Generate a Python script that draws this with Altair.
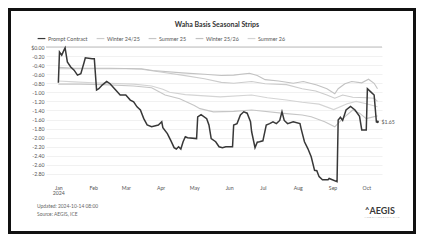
import altair as alt
import pandas as pd

series_names = ["Prompt Contract", "Winter 24/25", "Summer 25", "Winter 25/26", "Summer 26"]
series_colors = ["#383838", "#cccccc", "#c6c6c6", "#c2c2c2", "#d4d4d4"]

prompt_dates = ["2024-01-01","2024-01-02","2024-01-04","2024-01-06","2024-01-07","2024-01-09","2024-01-12",
    "2024-01-15","2024-01-18","2024-01-21","2024-01-24","2024-01-25","2024-01-31","2024-02-02","2024-02-04",
    "2024-02-06","2024-02-09","2024-02-13","2024-02-16","2024-02-21","2024-02-25","2024-03-01","2024-03-05",
    "2024-03-08","2024-03-11","2024-03-14","2024-03-17","2024-03-20","2024-03-24","2024-03-30","2024-04-02",
    "2024-04-03","2024-04-07","2024-04-10","2024-04-13","2024-04-15","2024-04-17","2024-04-19","2024-04-21",
    "2024-04-23","2024-04-25","2024-05-03","2024-05-04","2024-05-07","2024-05-12","2024-05-14","2024-05-16",
    "2024-05-20","2024-05-23","2024-05-26","2024-05-29","2024-06-04","2024-06-05","2024-06-08","2024-06-11",
    "2024-06-14","2024-06-17","2024-06-20","2024-06-21","2024-06-24","2024-06-26","2024-06-28","2024-07-01",
    "2024-07-04","2024-07-07","2024-07-10","2024-07-13","2024-07-16","2024-07-18","2024-07-20","2024-07-23",
    "2024-07-28","2024-08-03","2024-08-04","2024-08-07","2024-08-10","2024-08-13","2024-08-16","2024-08-18",
    "2024-08-20","2024-08-23","2024-08-28","2024-08-29","2024-09-05","2024-09-06","2024-09-08","2024-09-10",
    "2024-09-13","2024-09-17","2024-09-21","2024-09-25","2024-09-27","2024-10-01","2024-10-02","2024-10-05",
    "2024-10-08","2024-10-10","2024-10-11"]
prompt_values = [-0.79,-0.11,-0.18,-0.07,-0.02,-0.33,-0.44,
    -0.51,-0.62,-0.59,-0.33,-0.24,-0.26,-0.26,-0.95,
    -0.92,-0.84,-0.76,-0.81,-0.95,-1.06,-1.06,-1.17,
    -1.21,-1.32,-1.39,-1.58,-1.72,-1.76,-1.72,-1.65,
    -1.78,-1.91,-2.06,-2.22,-2.25,-2.20,-2.25,-2.09,
    -1.98,-2.00,-2.02,-1.54,-1.49,-1.58,-1.72,-2.02,
    -2.09,-2.20,-2.22,-2.20,-2.20,-1.72,-1.69,-1.50,
    -1.43,-1.46,-1.65,-1.87,-2.22,-2.10,-2.09,-2.07,
    -1.72,-1.69,-1.65,-1.69,-1.62,-1.43,-1.62,-1.69,
    -1.65,-1.69,-1.80,-2.09,-2.24,-2.42,-2.72,-2.73,
    -2.86,-2.93,-2.93,-2.90,-2.97,-1.61,-1.55,-1.62,
    -1.39,-1.31,-1.39,-1.53,-1.83,-1.83,-0.92,-0.99,
    -1.06,-1.65,-1.65]

w2425_dates = ["2024-01-01","2024-02-01","2024-03-01","2024-03-15","2024-04-01","2024-04-20","2024-05-10",
    "2024-05-25","2024-06-05","2024-06-21","2024-07-03","2024-07-22","2024-08-05","2024-08-17","2024-08-27",
    "2024-09-03","2024-09-10","2024-09-19","2024-10-01","2024-10-08","2024-10-11"]
w2425_values = [-0.48,-0.48,-0.48,-0.49,-0.55,-0.62,-0.70,
    -0.78,-0.80,-0.76,-0.81,-0.83,-0.92,-0.97,-1.06,
    -1.13,-1.06,-1.11,-1.12,-1.13,-1.20]

s25_dates = ["2024-01-01","2024-01-20","2024-02-10","2024-03-08","2024-03-24","2024-04-05","2024-04-18",
    "2024-05-01","2024-05-06","2024-05-18","2024-06-05","2024-06-21","2024-07-22","2024-08-05","2024-08-13",
    "2024-08-25","2024-09-03","2024-09-10","2024-09-19","2024-09-25","2024-10-01","2024-10-11"]
s25_values = [-0.82,-0.82,-0.83,-0.86,-0.90,-1.06,-1.14,
    -1.29,-1.36,-1.43,-1.42,-1.39,-1.47,-1.50,-1.54,
    -1.65,-1.76,-1.58,-1.39,-1.46,-1.58,-1.52]

w2526_dates = ["2024-01-01","2024-01-15","2024-02-15","2024-03-15","2024-03-25","2024-04-20","2024-05-10",
    "2024-05-25","2024-06-05","2024-06-19","2024-06-26","2024-07-03","2024-07-15","2024-07-28","2024-08-06",
    "2024-08-18","2024-08-27","2024-09-03","2024-09-06","2024-09-12","2024-09-18","2024-09-27","2024-10-03",
    "2024-10-08","2024-10-11"]
w2526_values = [-0.45,-0.47,-0.47,-0.48,-0.52,-0.57,-0.60,
    -0.63,-0.62,-0.58,-0.63,-0.72,-0.75,-0.80,-0.76,
    -0.84,-0.92,-1.03,-0.92,-0.81,-0.76,-0.79,-0.71,
    -0.80,-0.92]

s26_dates = ["2024-01-01","2024-01-15","2024-02-01","2024-03-08","2024-03-24","2024-04-03","2024-04-09",
    "2024-04-23","2024-05-24","2024-06-21","2024-07-05","2024-07-22","2024-08-05","2024-08-20","2024-09-02",
    "2024-09-14","2024-09-22","2024-10-01","2024-10-11"]
s26_values = [-0.75,-0.77,-0.79,-0.82,-0.86,-0.93,-1.00,
    -1.05,-1.10,-1.06,-1.12,-1.17,-1.22,-1.26,-1.38,
    -1.25,-1.20,-1.25,-1.32]

y_ticks = [0.0, -0.2, -0.4, -0.6, -0.8, -1.0, -1.2, -1.4, -1.6, -1.8, -2.0, -2.2, -2.4, -2.6, -2.8]
footer_lines = ["Updated: 2024-10-14 08:00", "Source: AEGIS, ICE"]
chart_title = "Waha Basis Seasonal Strips"

FONT = "Lato"

frames = []
for name, d, v in [("Prompt Contract", prompt_dates, prompt_values),
                   ("Winter 24/25", w2425_dates, w2425_values),
                   ("Summer 25", s25_dates, s25_values),
                   ("Winter 25/26", w2526_dates, w2526_values),
                   ("Summer 26", s26_dates, s26_values)]:
    frames.append(pd.DataFrame({"date": d, "value": v, "series": name}))
df = pd.concat(frames, ignore_index=True)
gray_df = df[df["series"] != "Prompt Contract"]
prompt_df = df[df["series"] == "Prompt Contract"]
last_df = prompt_df.tail(1).copy()
last_df["label"] = last_df["value"].map(lambda v: "$" + format(abs(v), ".2f"))

x_enc = alt.X(
    "date:T",
    title=None,
    scale=alt.Scale(type="utc", domain=[alt.DateTime(year=2023, month=12, date=21, utc=True),
                                        alt.DateTime(year=2024, month=10, date=15, utc=True)]),
    axis=alt.Axis(
        values=[alt.DateTime(year=2024, month=m, date=1, utc=True) for m in range(1, 11)],
        labelExpr="utcFormat(datum.value,'%m')=='01' ? [utcFormat(datum.value,'%b'), utcFormat(datum.value,'%Y')] : utcFormat(datum.value,'%b')",
        grid=False, domain=False, ticks=False, labelFontSize=5.2, labelColor="#555555",
        labelPadding=2, labelFont=FONT, labelLineHeight=5.5,
    ),
)
y_enc = alt.Y(
    "value:Q",
    title=None,
    scale=alt.Scale(domain=[-3.0, 0.0], nice=False, zero=False),
    axis=alt.Axis(
        values=[round(v, 2) for v in y_ticks],
        labelExpr="datum.value == 0 ? '$0.00' : replace(format(datum.value, '.2f'), '\u2212', '-')",
        grid=True, gridColor="#ededed", gridWidth=0.8, domain=False, ticks=False,
        labelFontSize=5.2, labelColor="#555555", labelPadding=2, labelFont=FONT,
    ),
)
color_enc = alt.Color(
    "series:N",
    scale=alt.Scale(domain=series_names, range=series_colors),
    legend=alt.Legend(
        orient="none", direction="horizontal", legendX=-9, legendY=-13, title=None,
        symbolType="stroke", symbolSize=60, symbolStrokeWidth=1.2, labelFontSize=5.4,
        labelColor="#555555", labelFont=FONT, columnPadding=6, symbolOffset=0,
        labelOffset=2, padding=0,
    ),
)

zero_rule = alt.Chart(pd.DataFrame({"value": [0.0]})).mark_rule(color="#bdbdbd", strokeWidth=1).encode(y=y_enc)

gray_lines = alt.Chart(gray_df).mark_line(strokeWidth=1.1).encode(
    x=x_enc, y=y_enc, color=color_enc, detail="series:N")

prompt_line = alt.Chart(prompt_df).mark_line(strokeWidth=1.5).encode(
    x=x_enc, y=y_enc, color=color_enc)

end_point = alt.Chart(last_df).mark_point(filled=True, size=8, color="#383838", opacity=1).encode(
    x=x_enc, y=y_enc)
end_label = alt.Chart(last_df).mark_text(align="left", baseline="middle", dx=4, fontSize=5.2,
                                         color="#555555", font=FONT).encode(
    x=x_enc, y=y_enc, text="label:N")

title_text = alt.Chart(pd.DataFrame({"t": [chart_title]})).mark_text(
    fontSize=7, fontWeight="bold", color="#333333", font=FONT, align="center", baseline="middle").encode(
    x=alt.value(171), y=alt.value(-22), text="t:N")

footer1 = alt.Chart(pd.DataFrame({"t": [footer_lines[0]]})).mark_text(
    fontSize=4.9, color="#666666", font=FONT, align="left", baseline="middle").encode(
    x=alt.value(-9), y=alt.value(160), text="t:N")
footer2 = alt.Chart(pd.DataFrame({"t": [footer_lines[1]]})).mark_text(
    fontSize=4.9, color="#666666", font=FONT, align="left", baseline="middle").encode(
    x=alt.value(-9), y=alt.value(167.5), text="t:N")

logo = alt.Chart(pd.DataFrame({"t": ["\u02c4AEGIS"]})).mark_text(
    fontSize=9, fontWeight="bold", color="#3a3a3a", font=FONT, align="center", baseline="middle").encode(
    x=alt.value(334), y=alt.value(164), text="t:N")
logo_sub = alt.Chart(pd.DataFrame({"t": ["H E D G I N G   S O L U T I O N S"]})).mark_text(
    fontSize=2.5, color="#aaaaaa", font=FONT, align="center", baseline="middle").encode(
    x=alt.value(336), y=alt.value(170), text="t:N")

border = alt.Chart(pd.DataFrame({"a": [0]})).mark_rect(
    fillOpacity=0, stroke="#111111", strokeWidth=3).encode(
    x=alt.value(-36.5), x2=alt.value(368.5), y=alt.value(-37.5), y2=alt.value(185.5))

chart = alt.layer(
    zero_rule, gray_lines, prompt_line, end_point, end_label, title_text, footer1, footer2, logo, logo_sub, border
).properties(
    width=336, height=136,
    padding={"left": 38, "top": 39, "right": 34, "bottom": 51},
    autosize=alt.AutoSizeParams(type="none"),
    background="white",
).configure_view(strokeWidth=0)

chart.save("out.html", embed_options={"renderer": "svg", "actions": False})
